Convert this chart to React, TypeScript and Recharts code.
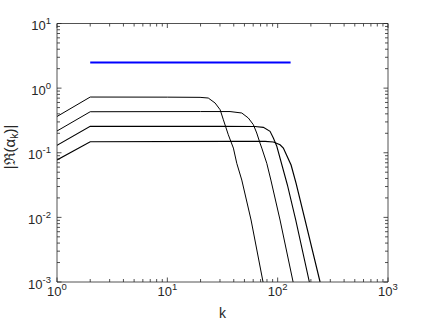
import { LineChart, Line, XAxis, YAxis, ReferenceLine } from 'recharts'

// plot box in page pixels (MATLAB-style axes)
const P = { left: 57, top: 23.5, right: 388, bottom: 282 }
const W = 429
const H = 322
const INK = '#262626'
const FONT = 'Liberation Sans, Arial, Helvetica, sans-serif'

const X_MAJOR = [1, 10, 100, 1000]
const X_MINOR = [2, 3, 4, 5, 6, 7, 8, 9, 20, 30, 40, 50, 60, 70, 80, 90, 200, 300, 400, 500, 600, 700, 800, 900]
const Y_MAJOR = [0.001, 0.01, 0.1, 1, 10]
const Y_MINOR = [
  0.002, 0.003, 0.004, 0.005, 0.006, 0.007, 0.008, 0.009,
  0.02, 0.03, 0.04, 0.05, 0.06, 0.07, 0.08, 0.09,
  0.2, 0.3, 0.4, 0.5, 0.6, 0.7, 0.8, 0.9,
  2, 3, 4, 5, 6, 7, 8, 9,
]

// |Re(alpha_k)| curves
const K1 = [1, 2, 10, 19.8, 23.5, 27.1, 30.1, 32.2, 35.7, 39.7, 42.6, 47.3, 57.4, 73.7]
const V1 = [0.364, 0.728, 0.725, 0.72, 0.703, 0.588, 0.463, 0.324, 0.19, 0.118, 0.0686, 0.0378, 0.0091, 0.001]

const K2 = [1, 2, 20, 37, 47.3, 54.2, 60.2, 64.6, 69.2, 71.8, 79.7, 86.8, 105.1, 138]
const V2 = [0.217, 0.431, 0.434, 0.434, 0.412, 0.345, 0.272, 0.202, 0.141, 0.118, 0.0686, 0.0378, 0.0091, 0.001]

const K3 = [1, 2, 30, 62.4, 74.2, 85.3, 91.4, 98.2, 106.2, 122.5, 145.9, 193.8]
const V3 = [0.13, 0.256, 0.256, 0.255, 0.247, 0.2145, 0.169, 0.126, 0.0772, 0.0317, 0.0091, 0.001]

const K4 = [1, 2, 40, 76.9, 91.4, 105.1, 112.6, 132.3, 146.9, 177.2, 242.3]
const V4 = [0.0772, 0.148, 0.15, 0.15, 0.1466, 0.133, 0.118, 0.0646, 0.0336, 0.0091, 0.001]

const BLUE_K = [2, 131]
const BLUE_V = [2.5, 2.5]

const pts = (ks: number[], vs: number[]) => ks.map((k, i) => ({ k, v: vs[i] }))

const exp = (v: number) => String(Math.round(Math.log10(v)))

// bottom tick also draws the mirrored tick on the top edge
function XTick(props: any) {
  const { x, payload } = props
  const major = X_MAJOR.includes(payload.value)
  const len = major ? 4.5 : 3
  return (
    <g>
      <line x1={x} x2={x} y1={P.bottom} y2={P.bottom - len} stroke={INK} strokeWidth={0.8} />
      <line x1={x} x2={x} y1={P.top} y2={P.top + len} stroke={INK} strokeWidth={0.8} />
      {major && (
        <text x={x} y={P.bottom + 13.5} textAnchor="middle" fill={INK} fontSize={13} fontFamily={FONT}>
          10<tspan dy={-6} fontSize={9.5}>{exp(payload.value)}</tspan>
        </text>
      )}
    </g>
  )
}

// left tick also draws the mirrored tick on the right edge
function YTick(props: any) {
  const { y, payload } = props
  const major = Y_MAJOR.includes(payload.value)
  const len = major ? 4.5 : 3
  return (
    <g>
      <line x1={P.left} x2={P.left + len} y1={y} y2={y} stroke={INK} strokeWidth={0.8} />
      <line x1={P.right} x2={P.right - len} y1={y} y2={y} stroke={INK} strokeWidth={0.8} />
      {major && (
        <text x={51} y={y + 6.5} textAnchor="end" fill={INK} fontSize={13} fontFamily={FONT}>
          10<tspan dy={-6} fontSize={9.5}>{exp(payload.value)}</tspan>
        </text>
      )}
    </g>
  )
}

function XLabel() {
  return (
    <text x={(P.left + P.right) / 2} y={318} textAnchor="middle" fill={INK} fontSize={14} fontFamily={FONT}>
      k
    </text>
  )
}

function YLabel() {
  const cx = 15
  const cy = 147
  return (
    <text
      x={cx} y={cy} transform={`rotate(-90, ${cx}, ${cy})`}
      textAnchor="middle" fill={INK} fontSize={15} fontFamily={FONT}
    >
      |ℜ(α<tspan dy={3} fontSize={10.5}>k</tspan><tspan dy={-3}>)|</tspan>
    </text>
  )
}

const axisLine = { stroke: INK, strokeWidth: 0.8 }

export default function App() {
  const X_TICKS = [...X_MAJOR, ...X_MINOR]
  const Y_TICKS = [...Y_MAJOR, ...Y_MINOR]
  return (
    <div style={{ position: 'absolute', left: 0, top: 0, width: W, height: H, background: '#fff' }}>
      <LineChart width={W} height={H} margin={{ top: P.top, right: W - P.right, bottom: 0, left: 0 }}>
        <XAxis
          xAxisId="b" type="number" dataKey="k" scale="log" domain={[1, 1000]} allowDataOverflow
          ticks={X_TICKS} interval={0} tickLine={false} axisLine={axisLine} height={H - P.bottom}
          tick={(p: any) => <XTick {...p} />}
          label={<XLabel />}
        />
        <YAxis
          yAxisId="l" type="number" scale="log" domain={[0.001, 10]} allowDataOverflow
          ticks={Y_TICKS} interval={0} tickLine={false} axisLine={axisLine} width={P.left}
          tick={(p: any) => <YTick {...p} />}
          label={<YLabel />}
        />
        <ReferenceLine xAxisId="b" yAxisId="l" y={10} stroke={INK} strokeWidth={0.8} />
        <ReferenceLine xAxisId="b" yAxisId="l" x={1000} stroke={INK} strokeWidth={0.8} />
        <Line xAxisId="b" yAxisId="l" data={pts(K1, V1)} dataKey="v" type="linear" stroke="#000" strokeWidth={1} dot={false} activeDot={false} isAnimationActive={false} />
        <Line xAxisId="b" yAxisId="l" data={pts(K2, V2)} dataKey="v" type="linear" stroke="#000" strokeWidth={1} dot={false} activeDot={false} isAnimationActive={false} />
        <Line xAxisId="b" yAxisId="l" data={pts(K3, V3)} dataKey="v" type="linear" stroke="#000" strokeWidth={1.1} dot={false} activeDot={false} isAnimationActive={false} />
        <Line xAxisId="b" yAxisId="l" data={pts(K4, V4)} dataKey="v" type="linear" stroke="#000" strokeWidth={1.2} dot={false} activeDot={false} isAnimationActive={false} />
        <Line xAxisId="b" yAxisId="l" data={pts(BLUE_K, BLUE_V)} dataKey="v" type="linear" stroke="#0000ff" strokeWidth={2} dot={false} activeDot={false} isAnimationActive={false} />
      </LineChart>
    </div>
  )
}
